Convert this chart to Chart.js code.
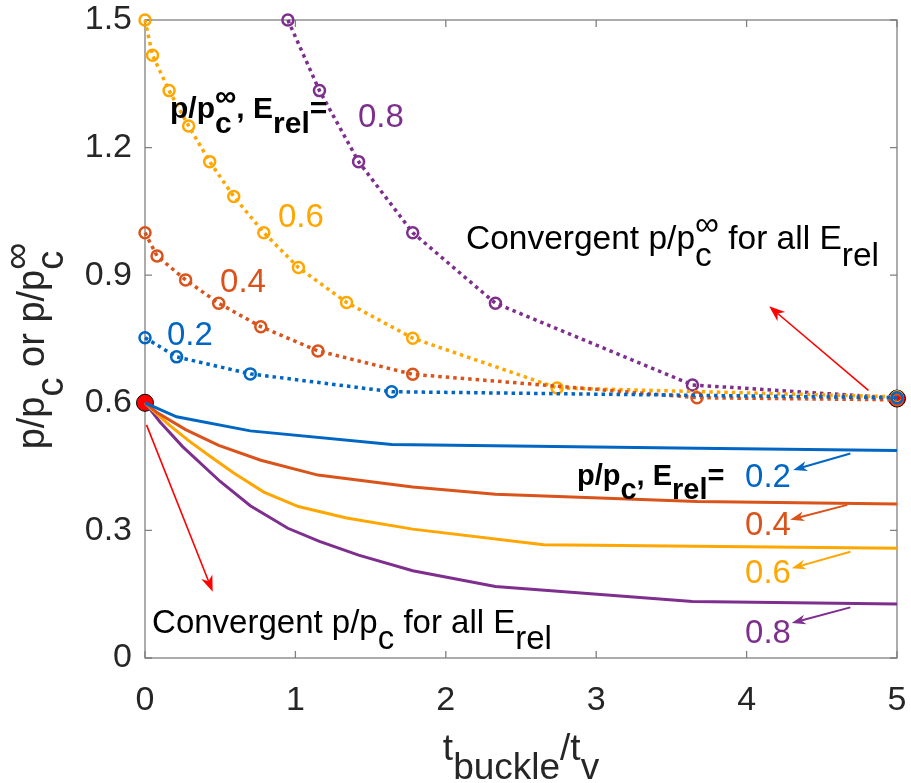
<!DOCTYPE html>
<html>
<head>
<meta charset="utf-8">
<title>p/pc vs tbuckle/tv</title>
<script src="https://cdn.jsdelivr.net/npm/chart.js@4.4.1/dist/chart.umd.min.js"></script>
<style>
  html, body { margin: 0; padding: 0; background: #fff; }
  #wrap { position: relative; width: 911px; height: 783px; }
</style>
</head>
<body>
<div id="wrap"><canvas id="chart"></canvas></div>
<script>
// E_rel cases
const erel = ['0.2', '0.4', '0.6', '0.8'];
const colors = ['#0066c4', '#d9531a', '#ffa600', '#7e2f8e'];

// p/pc^inf for each E_rel (dotted, circle markers)
const tInf02 = [0, 0.21, 0.70, 1.64, 5];
const pInf02 = [0.753, 0.708, 0.668, 0.626, 0.612];
const tInf04 = [0, 0.08, 0.27, 0.49, 0.77, 1.15, 1.78, 3.67, 5];
const pInf04 = [1.0, 0.945, 0.889, 0.834, 0.779, 0.722, 0.667, 0.612, 0.607];
const tInf06 = [0, 0.05, 0.16, 0.29, 0.43, 0.59, 0.79, 1.02, 1.34, 1.78, 2.74, 5];
const pInf06 = [1.5, 1.417, 1.334, 1.251, 1.167, 1.085, 1.0, 0.918, 0.836, 0.752, 0.635, 0.614];
const tInf08 = [0.95, 1.16, 1.42, 1.78, 2.33, 3.64, 5];
const pInf08 = [1.5, 1.334, 1.167, 1.0, 0.834, 0.642, 0.611];

// p/pc for each E_rel (solid)
const tFin02 = [0, 0.21, 0.70, 1.64, 3.67, 5];
const pFin02 = [0.6, 0.567, 0.534, 0.502, 0.493, 0.488];
const tFin04 = [0, 0.08, 0.27, 0.49, 0.77, 1.15, 1.78, 2.33, 3.67, 5];
const pFin04 = [0.6, 0.577, 0.537, 0.500, 0.465, 0.430, 0.402, 0.385, 0.368, 0.362];
const tFin06 = [0, 0.05, 0.16, 0.29, 0.43, 0.59, 0.79, 1.02, 1.34, 1.78, 2.65, 5];
const pFin06 = [0.6, 0.583, 0.548, 0.511, 0.475, 0.435, 0.390, 0.356, 0.329, 0.303, 0.266, 0.258];
const tFin08 = [0, 0.1, 0.25, 0.5, 0.7, 0.95, 1.16, 1.42, 1.78, 2.33, 3.64, 5];
const pFin08 = [0.6, 0.555, 0.497, 0.415, 0.358, 0.305, 0.274, 0.242, 0.205, 0.168, 0.133, 0.127];

// converged values at t = 0 and t = 5
const convT = [0, 5];
const convP = [0.6, 0.61];

const xTicks = [0, 1, 2, 3, 4, 5];
const yTicks = [0, 0.3, 0.6, 0.9, 1.2, 1.5];

const FONT = '"Liberation Sans", Arial, Helvetica, sans-serif';
const SUB_SCALE = 1.0;

const pts = (xs, ys) => xs.map((x, i) => ({ x: x, y: ys[i] }));

function dotted(xs, ys, i) {
    return {
        data: pts(xs, ys),
        showLine: true,
        borderColor: colors[i],
        borderWidth: 3.5,
        borderDash: [3.5, 4],
        borderCapStyle: 'butt',
        pointStyle: 'circle',
        pointRadius: 5.5,
        pointBorderWidth: 2.5,
        pointBorderColor: colors[i],
        pointBackgroundColor: 'rgba(0,0,0,0)',
        clip: false
    };
}

function solid(xs, ys, i) {
    return {
        data: pts(xs, ys),
        showLine: true,
        borderColor: colors[i],
        borderWidth: 3,
        pointRadius: 0,
        clip: false
    };
}

// ---- text with sub/superscripts ----
function setFont(ctx, size, bold) {
    ctx.font = (bold ? 'bold ' : '') + size + 'px ' + FONT;
}

function partWidth(ctx, p, size, bold) {
    if (p.t !== undefined) {
        setFont(ctx, size, bold);
        return ctx.measureText(p.t).width;
    }
    setFont(ctx, size * SUB_SCALE, bold);
    const ws = p.sub ? ctx.measureText(p.sub).width : 0;
    const wp = p.sup ? ctx.measureText(p.sup).width : 0;
    return Math.max(ws, wp);
}

function drawRich(ctx, parts, x, y, size, color, bold, align) {
    const total = parts.reduce((w, p) => w + partWidth(ctx, p, size, bold), 0);
    let cx = align === 'center' ? x - total / 2 : x;
    ctx.fillStyle = color;
    ctx.textAlign = 'left';
    ctx.textBaseline = 'alphabetic';
    parts.forEach(p => {
        const w = partWidth(ctx, p, size, bold);
        if (p.t !== undefined) {
            setFont(ctx, size, bold);
            ctx.fillText(p.t, cx, y);
        } else {
            setFont(ctx, size * SUB_SCALE, bold);
            if (p.sub) ctx.fillText(p.sub, cx, y + size * 0.5);
            if (p.sup) ctx.fillText(p.sup, cx, y - size * 0.4);
        }
        cx += w;
    });
}

// arrow with a swept-back head
function arrow(ctx, x1, y1, x2, y2, color, lw, head, half) {
    const a = Math.atan2(y2 - y1, x2 - x1);
    const c = Math.cos(a), s = Math.sin(a);
    const bx = x2 - head * c, by = y2 - head * s;
    const nx = x2 - head * 0.7 * c, ny = y2 - head * 0.7 * s;
    ctx.strokeStyle = color;
    ctx.fillStyle = color;
    ctx.lineWidth = lw;
    ctx.beginPath();
    ctx.moveTo(x1, y1);
    ctx.lineTo(nx, ny);
    ctx.stroke();
    ctx.beginPath();
    ctx.moveTo(x2, y2);
    ctx.lineTo(bx + half * s, by - half * c);
    ctx.lineTo(nx, ny);
    ctx.lineTo(bx - half * s, by + half * c);
    ctx.closePath();
    ctx.fill();
}

// box around the plot with inward tick marks on all four sides
const axesBox = {
    id: 'axesBox',
    beforeDatasetsDraw(chart) {
        const { ctx, chartArea: a, scales: { x, y } } = chart;
        ctx.save();
        ctx.strokeStyle = '#808080';
        ctx.lineWidth = 1.3;
        ctx.strokeRect(a.left, a.top, a.right - a.left, a.bottom - a.top);
        ctx.beginPath();
        xTicks.forEach(v => {
            const px = x.getPixelForValue(v);
            ctx.moveTo(px, a.bottom); ctx.lineTo(px, a.bottom - 7);
            ctx.moveTo(px, a.top); ctx.lineTo(px, a.top + 7);
        });
        yTicks.forEach(v => {
            const py = y.getPixelForValue(v);
            ctx.moveTo(a.left, py); ctx.lineTo(a.left + 7, py);
            ctx.moveTo(a.right, py); ctx.lineTo(a.right - 7, py);
        });
        ctx.stroke();
        ctx.restore();
    }
};

// labels, arrows and axis titles
const annotations = {
    id: 'annotations',
    afterDatasetsDraw(chart) {
        const { ctx, scales: { x, y } } = chart;
        const X = v => x.getPixelForValue(v);
        const Y = v => y.getPixelForValue(v);
        ctx.save();

        // p/pc^inf group
        drawRich(ctx, [{ t: 'p/p' }, { sub: 'c', sup: '\u221E' }, { t: ', E' }, { sub: 'rel' }, { t: '=' }],
            X(0.166), Y(1.27), 30, '#000', true);
        drawRich(ctx, [{ t: erel[3] }], X(1.416), Y(1.248), 33, colors[3]);
        drawRich(ctx, [{ t: erel[2] }], X(0.884), Y(1.013), 33, colors[2]);
        drawRich(ctx, [{ t: erel[1] }], X(0.499), Y(0.861), 33, colors[1]);
        drawRich(ctx, [{ t: erel[0] }], X(0.146), Y(0.736), 33, colors[0]);
        drawRich(ctx, [{ t: 'Convergent p/p' }, { sub: 'c', sup: '\u221E' }, { t: ' for all E' }, { sub: 'rel' }],
            X(2.134), Y(0.962), 33.5, '#000');

        // p/pc group
        drawRich(ctx, [{ t: 'p/p' }, { sub: 'c' }, { t: ', E' }, { sub: 'rel' }, { t: '=' }],
            X(2.872), Y(0.407), 29, '#000', true);
        const labY = [0.402, 0.289, 0.176, 0.035];
        labY.forEach((v, i) => drawRich(ctx, [{ t: erel[i] }], X(3.99), Y(v), 33, colors[i]));
        drawRich(ctx, [{ t: 'Convergent p/p' }, { sub: 'c' }, { t: ' for all E' }, { sub: 'rel' }],
            X(0.047), Y(0.059), 33, '#000');

        // arrows
        arrow(ctx, X(4.81), Y(0.629), X(4.15), Y(0.827), '#ff0000', 1.6, 16, 6);
        arrow(ctx, X(0.01), Y(0.548), X(0.45), Y(0.156), '#ff0000', 1.6, 16, 6);
        const arrFrom = [[4.69, 0.481], [4.67, 0.36], [4.69, 0.25], [4.69, 0.119]];
        const arrTo = [[4.31, 0.442], [4.29, 0.325], [4.30, 0.211], [4.30, 0.082]];
        arrFrom.forEach((f, i) => arrow(ctx, X(f[0]), Y(f[1]), X(arrTo[i][0]), Y(arrTo[i][1]), colors[i], 2, 14, 5));

        // axis titles
        drawRich(ctx, [{ t: 't' }, { sub: 'buckle' }, { t: '/t' }, { sub: 'v' }], 521, 760, 37, '#262626', false, 'center');
        ctx.translate(44, 346);
        ctx.rotate(-Math.PI / 2);
        drawRich(ctx, [{ t: 'p/p' }, { sub: 'c' }, { t: ' or p/p' }, { sub: 'c', sup: '\u221E' }], 0, 0, 38, '#262626', false, 'center');
        ctx.restore();
    }
};

document.addEventListener('DOMContentLoaded', () => {
    const datasets = [
        dotted(tInf02, pInf02, 0),
        dotted(tInf04, pInf04, 1),
        dotted(tInf06, pInf06, 2),
        dotted(tInf08, pInf08, 3),
        solid(tFin02, pFin02, 0),
        solid(tFin04, pFin04, 1),
        solid(tFin06, pFin06, 2),
        solid(tFin08, pFin08, 3),
        {
            data: pts(convT, convP),
            showLine: false,
            pointRadius: 8.5,
            pointBackgroundColor: '#ff0000',
            pointBorderColor: '#000',
            pointBorderWidth: 1,
            clip: false
        }
    ];

    new Chart(document.getElementById('chart'), {
        type: 'scatter',
        data: { datasets: datasets },
        options: {
            responsive: true,
            maintainAspectRatio: false,
            animation: false,
            layout: { padding: { top: 20, right: 14, left: 0, bottom: 0 } },
            plugins: {
                legend: { display: false },
                tooltip: { enabled: false }
            },
            scales: {
                x: {
                    type: 'linear',
                    min: 0,
                    max: 5,
                    afterBuildTicks: s => { s.ticks = xTicks.map(v => ({ value: v })); },
                    afterFit: s => { s.height = 125; s.paddingLeft = 0; s.paddingRight = 0; },
                    grid: { display: false },
                    border: { display: false },
                    ticks: {
                        padding: 14,
                        color: '#262626',
                        font: { size: 34, family: FONT },
                        maxRotation: 0,
                        autoSkip: false,
                        callback: v => String(v)
                    }
                },
                y: {
                    type: 'linear',
                    min: 0,
                    max: 1.5,
                    afterBuildTicks: s => { s.ticks = yTicks.map(v => ({ value: v })); },
                    afterFit: s => { s.width = 145; s.paddingTop = 0; s.paddingBottom = 0; },
                    grid: { display: false },
                    border: { display: false },
                    ticks: {
                        padding: 5,
                        color: '#262626',
                        font: { size: 34, family: FONT },
                        autoSkip: false,
                        callback: v => String(v)
                    }
                }
            }
        },
        plugins: [axesBox, annotations]
    });
});
</script>
</body>
</html>
